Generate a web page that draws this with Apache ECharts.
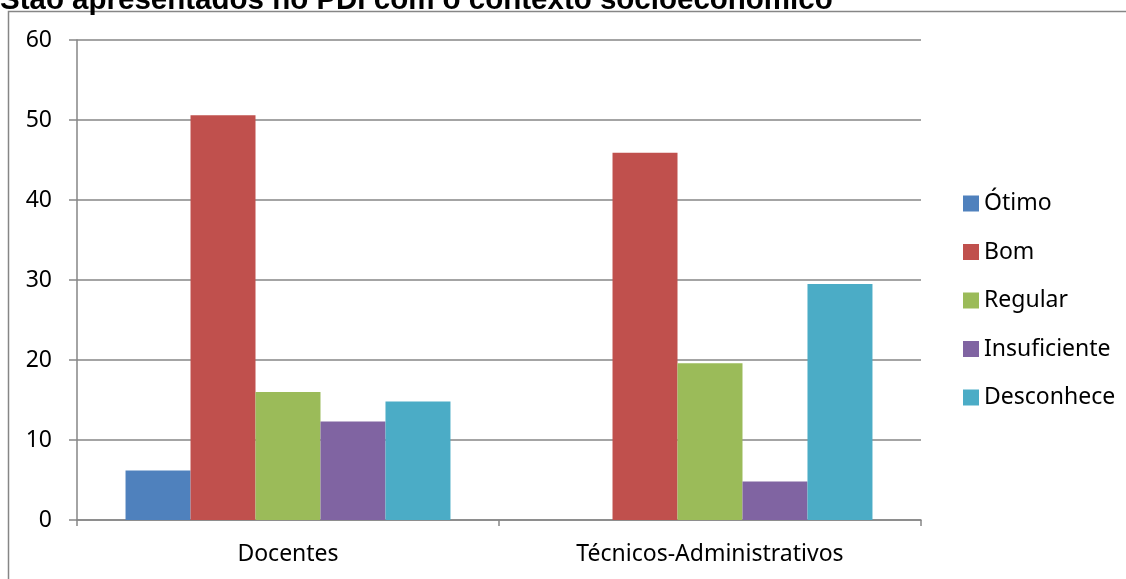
<!DOCTYPE html>
<html>
<head>
    <meta charset="utf-8">
    <script src="https://cdn.jsdelivr.net/npm/echarts@6/dist/echarts.min.js"></script>
    <style>
        html, body { margin: 0; padding: 0; background: #fff; }
    </style>
</head>
<body>
    <div id="chart" style="width: 1126px;height:579px;"></div>
    <script type="text/javascript">
        // dados
        var categorias = ['Docentes', 'Técnicos-Administrativos'];
        var otimo = [6.2, 0];
        var bom = [50.6, 45.9];
        var regular = [16.0, 19.6];
        var insuficiente = [12.3, 4.8];
        var desconhece = [14.8, 29.5];
        var nomes = ['Ótimo', 'Bom', 'Regular', 'Insuficiente', 'Desconhece'];
        var cores = ['#4F81BD', '#C0504D', '#9BBB59', '#8064A2', '#4BACC6'];

        var fonte = '"Noto Sans", sans-serif';
        var cinza = '#868686';

        var myChart = echarts.init(document.getElementById('chart'));
        var valores = [otimo, bom, regular, insuficiente, desconhece];
        var ser = [];
        for (var i = 0; i < nomes.length; i++) {
            ser.push({
                name: nomes[i],
                type: 'bar',
                data: valores[i],
                barGap: '0%',
                barCategoryGap: '23%',
                itemStyle: { color: cores[i] }
            });
        }

        var option = {
            animation: false,
            color: cores,
            title: {
                text: 'Stão apresentados no PDI com o contexto socioeconômico',
                left: -5,
                top: -19,
                textStyle: { fontFamily: 'Liberation Sans', fontWeight: 'bold', fontSize: 29.5, color: '#000' }
            },
            graphic: [{
                type: 'rect',
                shape: { x: 8.5, y: 11.5, width: 1130, height: 600 },
                style: { fill: 'none', stroke: cinza, lineWidth: 1.5 },
                silent: true
            }],
            legend: {
                orient: 'vertical',
                left: 958,
                top: 187,
                itemWidth: 16,
                itemHeight: 16,
                itemGap: 25.5,
                icon: 'rect',
                textStyle: { fontFamily: fonte, fontSize: 23, color: '#000' },
                data: nomes
            },
            grid: { left: 77, right: 205, top: 40, bottom: 59, containLabel: false },
            xAxis: {
                type: 'category',
                data: categorias,
                axisLine: { lineStyle: { color: cinza, width: 1.5 } },
                axisTick: { show: true, length: 6, lineStyle: { color: cinza, width: 1.5 } },
                axisLabel: { fontFamily: fonte, fontSize: 23, color: '#000', margin: 23 },
                splitLine: { show: false }
            },
            yAxis: {
                type: 'value',
                min: 0,
                max: 60,
                interval: 10,
                axisLine: { show: true, lineStyle: { color: cinza, width: 1.5 } },
                axisTick: { show: true, length: 8, lineStyle: { color: cinza, width: 1.5 } },
                axisLabel: { fontFamily: fonte, fontSize: 23, color: '#000', margin: 25 },
                splitLine: { show: true, lineStyle: { color: cinza, width: 1.5 } }
            },
            series: ser
        };
        myChart.setOption(option);
    </script>
</body>
</html>
